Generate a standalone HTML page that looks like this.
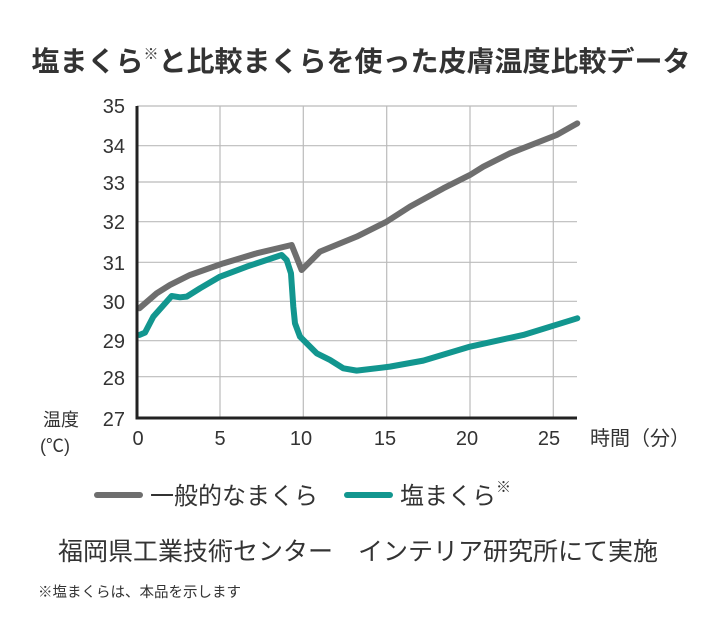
<!DOCTYPE html>
<html><head><meta charset="utf-8"><style>
html,body{margin:0;padding:0;background:#fff}
svg{display:block}
text{font-family:"Liberation Sans","Noto Sans CJK JP",sans-serif;fill:#333}
</style></head><body>
<svg width="720" height="620" viewBox="0 0 720 620" xmlns="http://www.w3.org/2000/svg">
<text x="361" y="71" text-anchor="middle" font-size="28" font-weight="bold" fill="#222">塩まくら<tspan font-size="15" dy="-12">※</tspan><tspan dy="12">と比較まくらを使った皮膚温度比較データ</tspan></text>
<g stroke="#bbb" stroke-width="1.2">
<line x1="137" y1="106" x2="577" y2="106"/><line x1="137" y1="145.7" x2="577" y2="145.7"/><line x1="137" y1="182" x2="577" y2="182"/><line x1="137" y1="221.7" x2="577" y2="221.7"/><line x1="137" y1="262.3" x2="577" y2="262.3"/><line x1="137" y1="301.3" x2="577" y2="301.3"/><line x1="137" y1="340.7" x2="577" y2="340.7"/><line x1="137" y1="376.7" x2="577" y2="376.7"/>
<line x1="220" y1="106" x2="220" y2="418"/><line x1="303.3" y1="106" x2="303.3" y2="418"/><line x1="386.7" y1="106" x2="386.7" y2="418"/><line x1="470" y1="106" x2="470" y2="418"/><line x1="553.3" y1="106" x2="553.3" y2="418"/>
</g>
<g transform="translate(90,90) scale(0.3333)" fill="none" stroke-width="18" stroke-linejoin="round" stroke-linecap="round">
<polyline stroke="#6e6e6e" points="148,655 200,610 240,585 300,555 400,520 500,490 605,465 635,540 690,485 800,440 890,395 960,350 1060,295 1140,255 1180,230 1260,190 1400,135 1462,100"/>
<polyline stroke="#12968f" points="148,735 165,728 190,680 230,635 245,618 270,622 290,620 330,595 390,560 470,530 575,495 590,510 603,550 610,650 615,700 630,740 680,790 720,810 760,835 800,842 900,830 1000,812 1140,770 1300,735 1462,685"/>
</g>
<polyline points="137,106 137,418 577,418" fill="none" stroke="#222" stroke-width="3"/>
<g font-size="20" text-anchor="end">
<text x="125" y="113">35</text><text x="125" y="153">34</text><text x="125" y="190">33</text><text x="125" y="229">32</text><text x="125" y="270">31</text><text x="125" y="309">30</text><text x="125" y="348">29</text><text x="125" y="385">28</text><text x="125" y="426">27</text>
</g>
<g font-size="20" text-anchor="middle">
<text x="138" y="445">0</text><text x="220" y="445">5</text><text x="301" y="445">10</text><text x="385" y="445">15</text><text x="467" y="445">20</text><text x="549" y="445">25</text>
</g>
<text x="590" y="445" font-size="20">時間（分）</text>
<text x="43" y="426" font-size="18">温度</text>
<text x="40" y="452" font-size="18">(℃)</text>
<line x1="97" y1="495" x2="140" y2="495" stroke="#6e6e6e" stroke-width="6" stroke-linecap="round"/>
<text x="150" y="504" font-size="24">一般的なまくら</text>
<line x1="347" y1="495" x2="390" y2="495" stroke="#12968f" stroke-width="6" stroke-linecap="round"/>
<text x="400" y="504" font-size="24">塩まくら<tspan font-size="15" dy="-12">※</tspan></text>
<text x="358" y="560" font-size="25" text-anchor="middle">福岡県工業技術センター　インテリア研究所にて実施</text>
<text x="38" y="597" font-size="14.5">※塩まくらは、本品を示します</text>
</svg>
</body></html>
